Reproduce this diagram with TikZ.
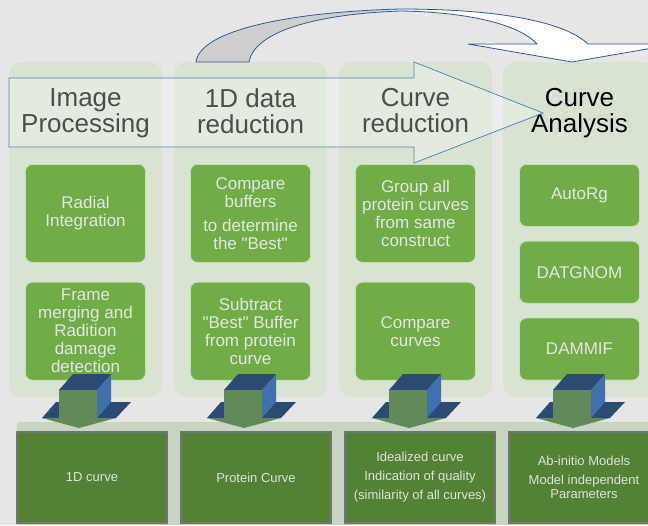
\documentclass[tikz,border=0pt]{standalone}
\usepackage{fontspec}
\setmainfont{Liberation Sans}
\usetikzlibrary{positioning}
\definecolor{canvas}{HTML}{E6E6E6}
\definecolor{lanegreen}{HTML}{D8E3D2}
\definecolor{stepgreen}{HTML}{70AD47}
\definecolor{outgreen}{HTML}{548235}
\definecolor{outband}{HTML}{C9D5C3}
\definecolor{faceblue}{HTML}{4170AE}
\definecolor{topblue}{HTML}{2B4B73}
\definecolor{faceolive}{HTML}{62895A}
\definecolor{lineblue}{HTML}{4F81BD}
\definecolor{bendblue}{HTML}{2F5C96}
\definecolor{bendgray}{HTML}{CFCFCF}
\pgfdeclarehorizontalshading{bendfill}{100bp}{color(0bp)=(bendgray); color(43bp)=(bendgray); color(49bp)=(white); color(100bp)=(white)}

\begin{document}
\begin{tikzpicture}[x=1pt, y=-1pt,
lane/.style={rectangle, rounded corners=12pt, fill=lanegreen, minimum width=153pt, minimum height=335pt, outer sep=0pt},
heading/.style={inner sep=0pt, align=center, font=\fontsize{26}{26}\selectfont},
stepbox/.style={rectangle, rounded corners=7pt, fill=stepgreen, draw=stepgreen!40!white, line width=0.8pt, minimum width=120pt, minimum height=98pt, text=white!90!black, align=center, font=\fontsize{17}{18}\selectfont},
toolbox/.style={stepbox, minimum height=62pt},
outbox/.style={rectangle, fill=outgreen, draw=gray!90!black, line width=2pt, minimum width=150pt, minimum height=91pt, text=white!88!black, align=center, font=\fontsize{13}{14}\selectfont},
dropblock/.pic={
  \fill[topblue] (-36,28) -- (38,28) -- (53,12) -- (-22,12) -- cycle;
  \fill[faceolive] (-36,28) -- (38,28) -- (1,38) -- cycle;
  \fill[faceblue] (19,0) -- (33,-16) -- (33,12) -- (19,28) -- cycle;
  \fill[topblue] (-19,0) -- (19,0) -- (33,-16) -- (-5,-16) -- cycle;
  \fill[faceolive] (-19,0) rectangle (19,28);
}
]
\path[use as bounding box, fill=canvas] (0,0) rectangle (648,525);
\clip (0,0) rectangle (648,525);
%Lanes
\node[lane] (lane1) at (85.5,229.5) {};
\node[lane] (lane2) [right=12pt of lane1] {};
\node[lane] (lane3) [right=12pt of lane2] {};
\node[lane] (lane4) [right=11pt of lane3] {};
%Headings
\node[heading] (head1) [below=26.4pt of lane1.north] {Image\\Processing};
\node[heading] (head2) [below=26.4pt of lane2.north] {1D data\\reduction};
\node[heading] (head3) [below=26.4pt of lane3.north] {Curve\\reduction};
\node[heading] (head4) [below=26.4pt of lane4.north] {Curve\\Analysis};
%Steps
\node[stepbox] (radial)   [below=102pt of lane1.north] {Radial\\Integration};
\node[stepbox] (merge)    [below=19pt of radial]       {Frame\\merging and\\Radition\\damage\\detection};
\node[stepbox] (buffers)  [below=102pt of lane2.north] {Compare\\buffers\\[6pt]to determine\\the \textquotedbl Best\textquotedbl};
\node[stepbox] (subtract) [below=19pt of buffers]      {Subtract\\\textquotedbl Best\textquotedbl{} Buffer\\from protein\\curve};
\node[stepbox] (group)    [below=102pt of lane3.north] {Group all\\protein curves\\from same\\construct};
\node[stepbox] (compare)  [below=19pt of group]        {Compare\\curves};
\node[toolbox] (autorg)   [below=102pt of lane4.north] {AutoRg};
\node[toolbox] (datgnom)  [below=14pt of autorg]       {DATGNOM};
\node[toolbox] (dammif)   [below=14pt of datgnom]      {DAMMIF};
%Outputs
\node[rectangle, fill=outband, minimum width=643pt, minimum height=103pt, inner sep=0pt] (band) at (338.5,473.5) {};
\node[outbox] (curve1d) at (92,477.5) {1D curve};
\node[outbox] (protein) [right=12pt of curve1d] {Protein Curve};
\node[outbox] (ideal)   [right=12pt of protein] {Idealized curve\\[5pt]Indication of quality\\[5pt](similarity of all curves)};
\node[outbox] (models)  [right=12pt of ideal]   {Ab-initio Models\\[5pt]Model independent\\Parameters};
%Block arrows down
\pic at ([shift={(-7.5,-7)}]lane1.south) {dropblock};
\pic at ([shift={(-7.5,-7)}]lane2.south) {dropblock};
\pic at ([shift={(-7.5,-7)}]lane3.south) {dropblock};
\pic at ([shift={(-7.5,-7)}]lane4.south) {dropblock};
%Flow arrows
\draw[lineblue, line width=0.75pt, fill=white, fill opacity=0.3]
  (9,78) -- (414,78) -- (414,62) -- (543,113) -- (414,163) -- (414,147) -- (9,147) -- cycle;
\shadedraw[draw=bendblue, line width=0.8pt, shading=bendfill]
  (196,62) .. controls (200,30) and (290,12) .. (400,9)
  .. controls (500,9) and (565,22) .. (588,44) -- (676,44) -- (572,62) -- (468,44) -- (537,44)
  .. controls (520,25) and (470,12) .. (400,11)
  .. controls (320,14) and (255,30) .. (249,62) -- cycle;
\end{tikzpicture}
\end{document}
